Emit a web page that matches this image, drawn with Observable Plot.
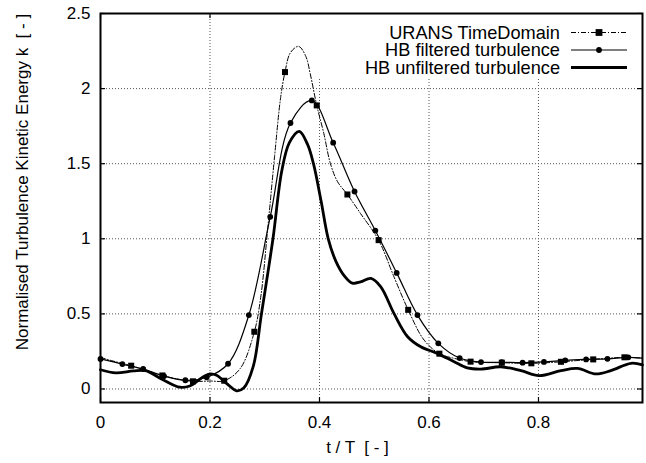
<!DOCTYPE html>
<html><head><meta charset="utf-8">
<script src="https://cdn.jsdelivr.net/npm/d3@7"></script>
<script src="https://cdn.jsdelivr.net/npm/@observablehq/plot@0.6"></script>
<style>
html,body{margin:0;padding:0;background:#fff;}
#chart{width:646px;height:463px;}
svg text{white-space:pre;}
</style>
</head><body><div id="chart"></div>
<script>
// ---- axis ticks / labels ----
const xTicks = [0, 0.2, 0.4, 0.6, 0.8];
const xTickLabels = ["0", "0.2", "0.4", "0.6", "0.8"];
const yTicks = [0, 0.5, 1, 1.5, 2, 2.5];
const yTickLabels = ["0", "0.5", "1", "1.5", "2", "2.5"];
const xLabel = "t / T  [ - ]";
const yLabel = "Normalised Turbulence Kinetic Energy k  [ - ]";
const seriesNames = ["URANS TimeDomain", "HB filtered turbulence", "HB unfiltered turbulence"];

// ---- URANS TimeDomain (dash-dot, squares) ----
const uransT = [0.000, 0.023, 0.056, 0.085, 0.113, 0.140, 0.169, 0.200, 0.226, 0.255, 0.281, 0.293, 0.305, 0.318, 0.329, 0.337, 0.347, 0.362, 0.375, 0.383, 0.395, 0.408, 0.420, 0.433, 0.451, 0.475, 0.508, 0.536, 0.562, 0.591, 0.619, 0.646, 0.676, 0.705, 0.733, 0.760, 0.787, 0.815, 0.841, 0.870, 0.900, 0.930, 0.957, 0.990];
const uransK = [0.210, 0.186, 0.155, 0.120, 0.090, 0.066, 0.051, 0.053, 0.055, 0.135, 0.381, 0.620, 1.050, 1.550, 1.940, 2.110, 2.240, 2.281, 2.215, 2.100, 1.888, 1.700, 1.500, 1.380, 1.295, 1.168, 0.991, 0.747, 0.527, 0.326, 0.235, 0.204, 0.182, 0.176, 0.175, 0.172, 0.171, 0.175, 0.181, 0.189, 0.197, 0.205, 0.211, 0.205];
const uransMarkerT = [0.056, 0.113, 0.169, 0.226, 0.281, 0.337, 0.395, 0.451, 0.508, 0.562, 0.619, 0.676, 0.733, 0.787, 0.841, 0.900, 0.957];

// ---- HB filtered turbulence (thin solid, circles) ----
const filtT = [0.000, 0.040, 0.078, 0.116, 0.155, 0.194, 0.233, 0.271, 0.310, 0.347, 0.386, 0.425, 0.464, 0.502, 0.541, 0.579, 0.617, 0.656, 0.695, 0.733, 0.771, 0.810, 0.849, 0.887, 0.926, 0.964, 0.990];
const filtK = [0.200, 0.166, 0.133, 0.086, 0.058, 0.078, 0.168, 0.492, 1.146, 1.771, 1.921, 1.640, 1.315, 1.055, 0.773, 0.492, 0.304, 0.206, 0.179, 0.178, 0.175, 0.180, 0.191, 0.197, 0.201, 0.211, 0.205];
const filtMarkerT = [0.000, 0.040, 0.078, 0.116, 0.155, 0.194, 0.233, 0.271, 0.310, 0.347, 0.386, 0.425, 0.464, 0.502, 0.541, 0.579, 0.617, 0.656, 0.695, 0.733, 0.771, 0.810, 0.849, 0.887, 0.926, 0.964];

// ---- HB unfiltered turbulence (thick solid) ----
const unfiltT = [0.000, 0.028, 0.060, 0.082, 0.114, 0.145, 0.163, 0.188, 0.200, 0.212, 0.230, 0.249, 0.262, 0.279, 0.294, 0.315, 0.331, 0.345, 0.363, 0.378, 0.389, 0.403, 0.416, 0.430, 0.445, 0.460, 0.475, 0.494, 0.512, 0.536, 0.561, 0.585, 0.615, 0.646, 0.670, 0.695, 0.731, 0.768, 0.801, 0.841, 0.871, 0.905, 0.932, 0.969, 0.990];
const unfiltK = [0.128, 0.107, 0.120, 0.122, 0.062, 0.012, 0.020, 0.082, 0.100, 0.091, 0.038, -0.012, 0.008, 0.150, 0.500, 1.000, 1.450, 1.640, 1.715, 1.630, 1.500, 1.250, 1.000, 0.850, 0.755, 0.705, 0.713, 0.736, 0.680, 0.503, 0.348, 0.281, 0.237, 0.182, 0.140, 0.132, 0.148, 0.122, 0.089, 0.122, 0.137, 0.100, 0.122, 0.171, 0.160];

const urans = uransT.map((t, i) => ({t, k: uransK[i]}));
const filt = filtT.map((t, i) => ({t, k: filtK[i]}));
const unfilt = unfiltT.map((t, i) => ({t, k: unfiltK[i]}));
const uransMarks = urans.filter(d => uransMarkerT.includes(d.t));
const filtMarks = filt.filter(d => filtMarkerT.includes(d.t));

const W = 646, H = 463, mL = 100, mR = 4, mT = 13, mB = 61;
const innerH = H - mT - mB, innerW = W - mL - mR;
const FS = 17, LFS = 18.2;
const gridStyle = {stroke: "#555", strokeWidth: 1, strokeDasharray: "1,2"};

const chart = Plot.plot({
  width: W, height: H,
  marginLeft: mL, marginRight: mR, marginTop: mT, marginBottom: mB,
  style: {fontFamily: "'Liberation Sans', Arial, Helvetica, sans-serif", fontSize: FS + "px", background: "#fff", overflow: "visible"},
  x: {domain: [0, 0.99]},
  y: {domain: [-0.09, 2.5]},
  marks: [
    Plot.ruleX(xTicks.filter(d => d > 0), {x: d => d, ...gridStyle}),
    Plot.ruleY(yTicks.filter(d => d < 2.5), {y: d => d, ...gridStyle}),
    // inward ticks, mirrored
    Plot.tickX(xTicks, {x: d => d, insetTop: innerH - 5, stroke: "black", strokeWidth: 1.2}),
    Plot.tickX(xTicks, {x: d => d, insetBottom: innerH - 5, stroke: "black", strokeWidth: 1.2}),
    Plot.tickY(yTicks, {y: d => d, insetRight: innerW - 5, stroke: "black", strokeWidth: 1.2}),
    Plot.tickY(yTicks, {y: d => d, insetLeft: innerW - 5, stroke: "black", strokeWidth: 1.2}),
    Plot.axisX(xTicks, {tickSize: 0, tickPadding: 13, fontSize: FS, tickFormat: (d, i) => xTickLabels[i], label: null}),
    Plot.axisY(yTicks, {tickSize: 0, tickPadding: 10, fontSize: FS, tickFormat: (d, i) => yTickLabels[i], label: null}),
    Plot.line(urans, {x: "t", y: "k", curve: "catmull-rom", stroke: "black", strokeWidth: 1, strokeDasharray: "5,2,1,2"}),
    Plot.dot(uransMarks, {x: "t", y: "k", symbol: "square", r: 3.4, fill: "black", stroke: "none"}),
    Plot.line(filt, {x: "t", y: "k", curve: "catmull-rom", stroke: "black", strokeWidth: 1.2}),
    Plot.dot(filtMarks, {x: "t", y: "k", r: 2.9, fill: "black", stroke: "none"}),
    Plot.line(unfilt, {x: "t", y: "k", curve: "catmull-rom", stroke: "black", strokeWidth: 2.8}),
    Plot.text([xLabel], {frameAnchor: "bottom", dy: 50, dx: -14, fontSize: FS}),
    Plot.text([yLabel], {frameAnchor: "left", textAnchor: "middle", rotate: -90, dx: -78, dy: -26, fontSize: FS}),
    Plot.frame({stroke: "black", strokeWidth: 2})
  ]
});
document.getElementById("chart").appendChild(chart);

// ---- legend (opaque key box like gnuplot) ----
const svg = d3.select(chart);
svg.insert("rect", "g[aria-label=line]")
  .attr("x", 316).attr("y", mT + 1).attr("width", W - mR - 316 - 1).attr("height", 63)
  .attr("fill", "white");
const rowY = [32.5, 50, 67.5];
const lx1 = 571, lx2 = 627, tx = 560;
const leg = svg.append("g").attr("font-size", LFS).attr("font-family", "'Liberation Sans', Arial, sans-serif");
seriesNames.forEach((name, i) => {
  const y = rowY[i];
  leg.append("text").attr("x", tx).attr("y", y).attr("dy", "0.35em").attr("text-anchor", "end").attr("fill", "black").text(name);
  const line = leg.append("line").attr("x1", lx1).attr("x2", lx2).attr("y1", y).attr("y2", y).attr("stroke", "black");
  if (i === 0) {
    line.attr("stroke-width", 1).attr("stroke-dasharray", "5,2,1,2");
    leg.append("rect").attr("x", (lx1 + lx2) / 2 - 3.4).attr("y", y - 3.4).attr("width", 6.8).attr("height", 6.8).attr("fill", "black");
  } else if (i === 1) {
    line.attr("stroke-width", 1.2);
    leg.append("circle").attr("cx", (lx1 + lx2) / 2).attr("cy", y).attr("r", 2.9).attr("fill", "black");
  } else {
    line.attr("stroke-width", 2.8);
  }
});
</script>
</body></html>
